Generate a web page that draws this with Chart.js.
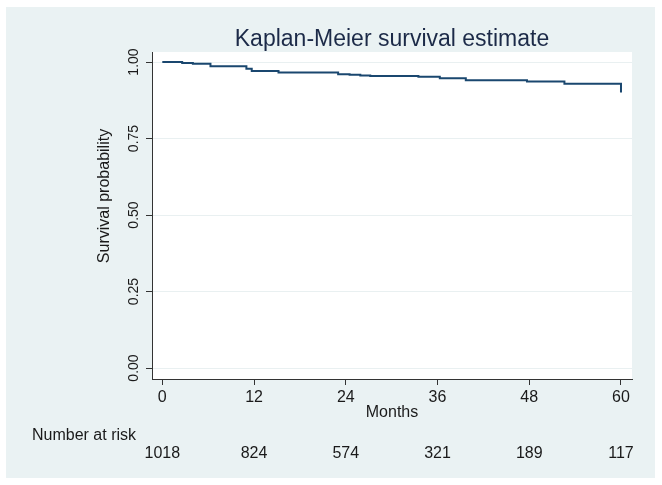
<!DOCTYPE html>
<html>
<head>
<meta charset="utf-8">
<script src="https://cdn.jsdelivr.net/npm/chart.js@4"></script>
<style>
  html, body { margin: 0; padding: 0; background: #ffffff; }
  #wrap { width: 662px; height: 485px; position: relative; }
</style>
</head>
<body>
<div id="wrap"><canvas id="kmChart" width="662" height="485"></canvas></div>
<script>
// Kaplan-Meier step data (event months and survival after each step)
var months   = [0, 2.6, 4, 6.3, 11, 11.7, 15.2, 23, 24.5, 25.9, 27.2, 33.5, 36.3, 39.7, 47.7, 52.6, 60, 60];
var survival = [1, 0.997, 0.994, 0.986, 0.978, 0.971, 0.966, 0.960, 0.958, 0.956, 0.954, 0.952, 0.947, 0.940, 0.936, 0.929, 0.929, 0.900];

var xTicks = [0, 12, 24, 36, 48, 60];
var yTicks = [0, 0.25, 0.5, 0.75, 1];
var atRisk = [1018, 824, 574, 321, 189, 117];

var FONT = '"Liberation Sans", Arial, Helvetica, sans-serif';
var TEXT = '#1a1a1a';

var points = months.map(function(m, i){ return { x: m, y: survival[i] }; });

// backgrounds, y title and the number-at-risk table
var decor = {
	id: 'decor',
	beforeDraw: function(chart){
		var c = chart.ctx, a = chart.chartArea;
		c.save();
		c.fillStyle = '#ffffff';
		c.fillRect(0, 0, chart.width, chart.height);
		c.fillStyle = '#eaf2f3';
		c.fillRect(6, 7, 649, 471);
		c.fillStyle = '#ffffff';
		c.fillRect(a.left, a.top, a.right - a.left, a.bottom - a.top);
		c.restore();
	},
	afterDraw: function(chart){
		var c = chart.ctx, xs = chart.scales.x;
		c.save();
		c.fillStyle = TEXT;
		c.font = '16px ' + FONT;
		c.textBaseline = 'middle';

		// y axis title
		c.save();
		c.translate(104.5, 196);
		c.rotate(-Math.PI / 2);
		c.textAlign = 'center';
		c.fillText('Survival probability', 0, 0);
		c.restore();

		c.textAlign = 'left';
		c.fillText('Number at risk', 32, 436);
		c.textAlign = 'center';
		atRisk.forEach(function(n, i){
			c.fillText(String(n), xs.getPixelForValue(xTicks[i]), 454);
		});
		c.restore();
	}
};

var ctx = document.getElementById('kmChart').getContext('2d');
var kmChart = new Chart(ctx, {
	type: 'line',
	data: {
		datasets: [{
			label: 'Survival',
			data: points,
			stepped: 'before',
			borderColor: '#1a476f',
			backgroundColor: '#1a476f',
			borderWidth: 2,
			pointRadius: 0,
			fill: false
		}]
	},
	options: {
		responsive: false,
		animation: false,
		devicePixelRatio: 1,
		layout: { padding: { left: 0, right: 30, top: 0, bottom: 0 } },
		plugins: {
			legend: { display: false },
			tooltip: { enabled: false },
			title: {
				display: true,
				text: 'Kaplan-Meier survival estimate',
				fullSize: false,
				color: '#1c2a48',
				font: { family: FONT, size: 23, weight: 'normal', lineHeight: 1 },
				padding: { top: 28, bottom: 1 }
			}
		},
		scales: {
			x: {
				type: 'linear',
				min: -1.347,
				max: 61.44,
				afterBuildTicks: function(s){ s.ticks = xTicks.map(function(v){ return { value: v }; }); },
				afterFit: function(s){ s.height = 106; },
				grid: { drawOnChartArea: false, tickLength: 6, tickColor: '#333333' },
				border: { color: '#333333', width: 1 },
				ticks: { color: TEXT, font: { family: FONT, size: 16 }, padding: 3, maxRotation: 0, autoSkip: false },
				title: {
					display: true,
					text: 'Months',
					color: TEXT,
					font: { family: FONT, size: 16 },
					padding: { top: 0, bottom: 63 }
				}
			},
			y: {
				type: 'linear',
				min: -0.0359,
				max: 1.0327,
				afterBuildTicks: function(s){ s.ticks = yTicks.map(function(v){ return { value: v }; }); },
				afterFit: function(s){ s.width = 152; },
				grid: { color: '#e9f0f1', lineWidth: 1, tickLength: 6, tickColor: '#333333' },
				border: { color: '#333333', width: 1 },
				ticks: {
					color: TEXT,
					font: { family: FONT, size: 14 },
					minRotation: 90,
					maxRotation: 90,
					crossAlign: 'center',
					padding: -2,
					autoSkip: false,
					callback: function(v){ return v.toFixed(2); }
				}
			}
		}
	},
	plugins: [decor]
});
</script>
</body>
</html>
